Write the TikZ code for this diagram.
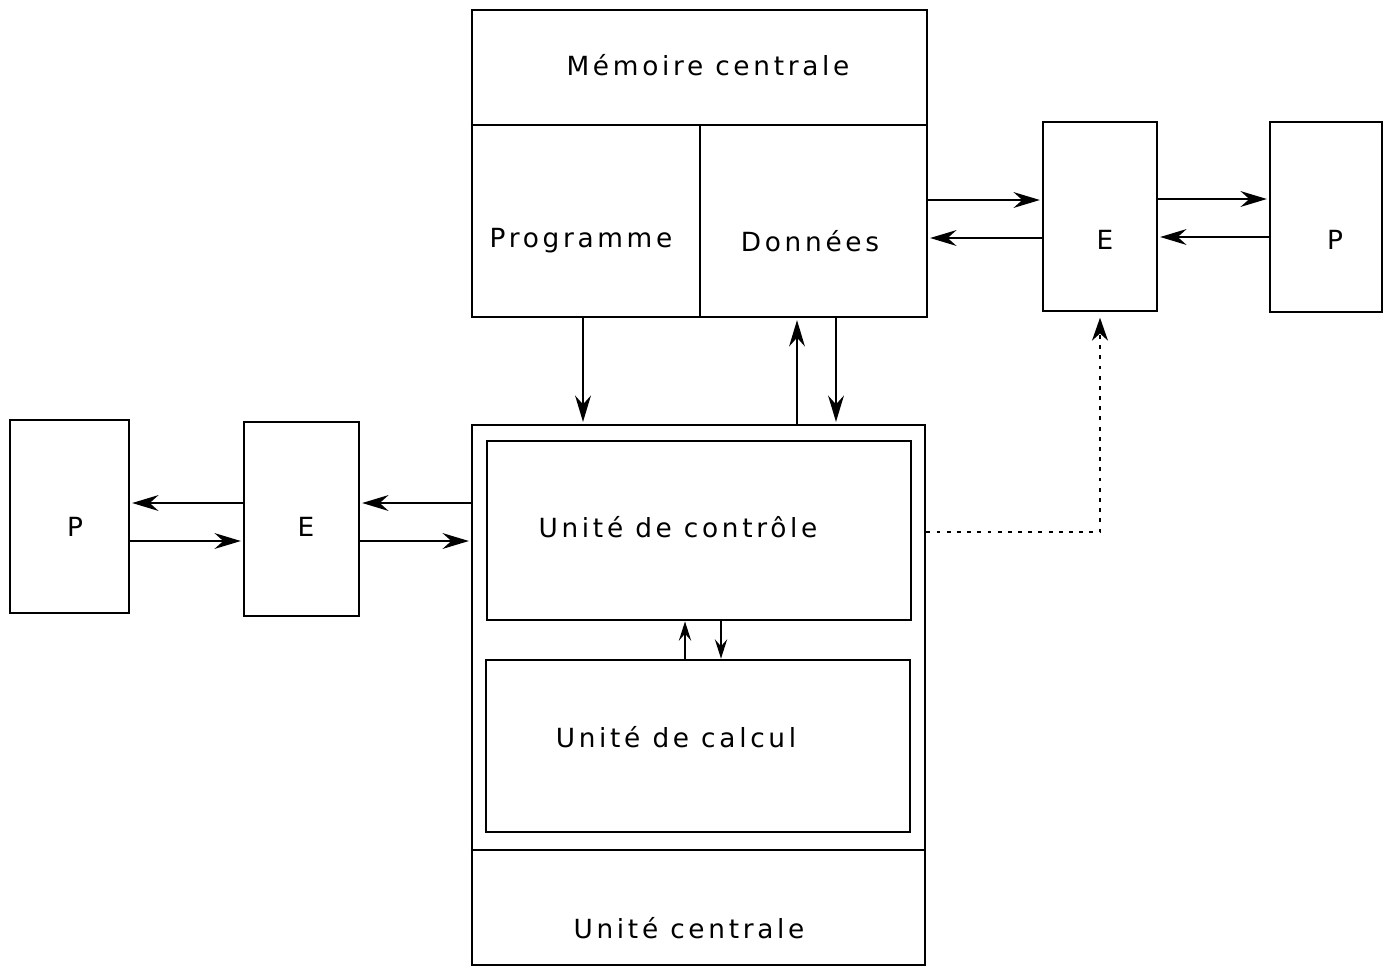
\documentclass[tikz,border=0pt]{standalone}
\usepackage{fontspec}
\newfontfamily\boxfont[LetterSpace=14]{DejaVu Sans}
\usetikzlibrary{arrows.meta,positioning}
\tikzstyle{block} = [rectangle, draw, line width=1.6pt, inner sep=0pt]
\tikzstyle{label} = [font=\boxfont\fontsize{15}{17}\selectfont, inner sep=0pt]
\tikzstyle{line} = [draw, line width=1.1pt, -{Stealth[length=15pt, width=9pt, inset=5pt]}, shorten >=1pt]
\tikzstyle{small line} = [draw, line width=1.1pt, -{Stealth[length=11pt, width=7pt, inset=4pt]}]
\tikzstyle{dots} = [draw, line width=1.6pt, dash pattern=on 2.2pt off 3.6pt, -{Stealth[length=13pt, width=9pt, inset=4pt]}, shorten >=3pt]

\begin{document}
\begin{tikzpicture}[x=0.02cm, y=-0.02cm]
    \useasboundingbox (0,0) rectangle (1389,968);
    % Place nodes
    \node [block, minimum width=9.10cm, minimum height=6.14cm] (mem) at (699.5,163.5) {};
    \node [block, minimum width=2.28cm, minimum height=3.78cm] (eR) at (1100,216.5) {};
    \node [block, minimum width=2.24cm, minimum height=3.80cm] (pR) at (1326,217) {};
    \node [block, minimum width=9.06cm, minimum height=10.80cm] (uc) at (698.5,695) {};
    \node [block, minimum width=8.48cm, minimum height=3.58cm] (ctrl) at (699,530.5) {};
    \node [block, minimum width=8.48cm, minimum height=3.44cm] (calc) at (698,746) {};
    \node [block, minimum width=2.38cm, minimum height=3.86cm] (pL) at (69.5,516.5) {};
    \node [block, minimum width=2.30cm, minimum height=3.88cm] (eL) at (301.5,519) {};
    % Texts
    \node [label] (memtxt) at (708,65) {Mémoire centrale};
    \node [label] (prog) at (581,241) {Programme};
    \node [label] (don) at (810,241) {Données};
    \node [label] (ctrltxt) at (678,527) {Unité de contrôle};
    \node [label] (calctxt) at (676,737) {Unité de calcul};
    \node [label] (uctxt) at (689,928) {Unité centrale};
    \node [label] (eRtxt) at (1105,240) {E};
    \node [label] (pRtxt) at (1335,240) {P};
    \node [label] (eLtxt) at (306,527) {E};
    \node [label] (pLtxt) at (75,527) {P};
    % Dividers
    \draw [line width=1.6pt] (mem.west |- 0,125) -- (mem.east |- 0,125);
    \draw [line width=1.2pt] (700,125) -- (mem.south -| 700,0);
    \draw [line width=1.6pt] (uc.west |- 0,850) -- (uc.east |- 0,850);
    % Draw edges
    \path [line] (mem.east |- 0,200) -- (eR.west |- 0,200);
    \path [line] (eR.west |- 0,238) -- (mem.east |- 0,238);
    \path [line] (eR.east |- 0,199) -- (pR.west |- 0,199);
    \path [line] (pR.west |- 0,237) -- (eR.east |- 0,237);
    \path [line] (mem.south -| 583,0) -- (uc.north -| 583,0);
    \path [line] (uc.north -| 797,0) -- (mem.south -| 797,0);
    \path [line] (mem.south -| 836,0) -- (uc.north -| 836,0);
    \path [small line] (calc.north -| 685,0) -- (ctrl.south -| 685,0);
    \path [small line] (ctrl.south -| 721,0) -- (calc.north -| 721,0);
    \path [line] (uc.west |- 0,503) -- (eL.east |- 0,503);
    \path [line] (eL.east |- 0,541) -- (uc.west |- 0,541);
    \path [line] (eL.west |- 0,503) -- (pL.east |- 0,503);
    \path [line] (pL.east |- 0,541) -- (eL.west |- 0,541);
    \path [dots] (uc.east |- 0,532) -| (eR.south);
\end{tikzpicture}
\end{document}
